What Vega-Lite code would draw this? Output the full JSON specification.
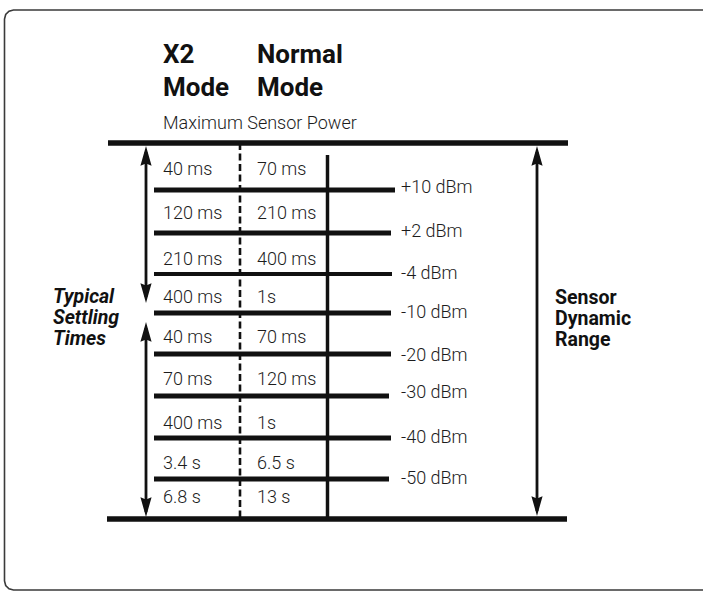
{
  "$schema": "https://vega.github.io/schema/vega-lite/v6.json",
  "width": 703,
  "height": 592,
  "autosize": {"type": "none"},
  "padding": 0,
  "background": "white",
  "config": {"view": {"stroke": null}},
  "datasets": {
    "frame": [
      {"edge": "top", "seq": 1, "px": 703, "py": 10},
      {"edge": "top", "seq": 2, "px": 13.5, "py": 10},
      {"edge": "top", "seq": 3, "px": 9, "py": 11.2},
      {"edge": "top", "seq": 4, "px": 5.7, "py": 14.5},
      {"edge": "top", "seq": 5, "px": 4.5, "py": 19},
      {"edge": "top", "seq": 6, "px": 4.5, "py": 581},
      {"edge": "top", "seq": 7, "px": 5.7, "py": 585.5},
      {"edge": "top", "seq": 8, "px": 9, "py": 588.8},
      {"edge": "top", "seq": 9, "px": 13.5, "py": 590},
      {"edge": "top", "seq": 10, "px": 703, "py": 590}
    ],
    "hlines": [
      {"kind": "limit", "from": 108, "to": 568, "at": 143},
      {"kind": "limit", "from": 107, "to": 567, "at": 519},
      {"kind": "level", "from": 154, "to": 395, "at": 190},
      {"kind": "level", "from": 154, "to": 391, "at": 233},
      {"kind": "major", "from": 154, "to": 392, "at": 274},
      {"kind": "level", "from": 154, "to": 391, "at": 313},
      {"kind": "level", "from": 154, "to": 391, "at": 354},
      {"kind": "level", "from": 154, "to": 389, "at": 396},
      {"kind": "level", "from": 154, "to": 391, "at": 438},
      {"kind": "level", "from": 154, "to": 389, "at": 479}
    ],
    "dashed": [{"at": 240, "from": 143, "to": 519}],
    "vlines": [
      {"kind": "column", "at": 327.5, "from": 155, "to": 519},
      {"kind": "arrow", "at": 146, "from": 152, "to": 297},
      {"kind": "arrow", "at": 146, "from": 328, "to": 512},
      {"kind": "arrow", "at": 537, "from": 152, "to": 511}
    ],
    "heads": [
      {"at": 146, "tip": 146, "dir": "up"},
      {"at": 146, "tip": 303, "dir": "down"},
      {"at": 146, "tip": 322, "dir": "up"},
      {"at": 146, "tip": 517, "dir": "down"},
      {"at": 537, "tip": 146, "dir": "up"},
      {"at": 537, "tip": 516, "dir": "down"}
    ],
    "cells": [
      {"mode": "X2", "label": "40 ms", "cx": 163, "cy": 170},
      {"mode": "Normal", "label": "70 ms", "cx": 257, "cy": 170},
      {"mode": "X2", "label": "120 ms", "cx": 163, "cy": 214},
      {"mode": "Normal", "label": "210 ms", "cx": 257, "cy": 214},
      {"mode": "X2", "label": "210 ms", "cx": 163, "cy": 260},
      {"mode": "Normal", "label": "400 ms", "cx": 257, "cy": 260},
      {"mode": "X2", "label": "400 ms", "cx": 163, "cy": 298},
      {"mode": "Normal", "label": "1s", "cx": 257, "cy": 298},
      {"mode": "X2", "label": "40 ms", "cx": 163, "cy": 338},
      {"mode": "Normal", "label": "70 ms", "cx": 257, "cy": 338},
      {"mode": "X2", "label": "70 ms", "cx": 163, "cy": 380},
      {"mode": "Normal", "label": "120 ms", "cx": 257, "cy": 380},
      {"mode": "X2", "label": "400 ms", "cx": 163, "cy": 424},
      {"mode": "Normal", "label": "1s", "cx": 257, "cy": 424},
      {"mode": "X2", "label": "3.4 s", "cx": 163, "cy": 464},
      {"mode": "Normal", "label": "6.5 s", "cx": 257, "cy": 464},
      {"mode": "X2", "label": "6.8 s", "cx": 163, "cy": 498},
      {"mode": "Normal", "label": "13 s", "cx": 257, "cy": 498},
      {"mode": "level", "label": "+10 dBm", "cx": 401, "cy": 188},
      {"mode": "level", "label": "+2 dBm", "cx": 401, "cy": 232},
      {"mode": "level", "label": "-4 dBm", "cx": 401, "cy": 274},
      {"mode": "level", "label": "-10 dBm", "cx": 401, "cy": 313},
      {"mode": "level", "label": "-20 dBm", "cx": 401, "cy": 356},
      {"mode": "level", "label": "-30 dBm", "cx": 401, "cy": 393},
      {"mode": "level", "label": "-40 dBm", "cx": 401, "cy": 438},
      {"mode": "level", "label": "-50 dBm", "cx": 401, "cy": 479},
      {"mode": "sub", "label": "Maximum Sensor Power", "cx": 163, "cy": 124}
    ],
    "heads_text": [
      {"label": "X2", "cx": 163, "cy": 55},
      {"label": "Normal", "cx": 257, "cy": 55},
      {"label": "Mode", "cx": 163, "cy": 88},
      {"label": "Mode", "cx": 257, "cy": 88}
    ],
    "side_left": [
      {"label": "Typical", "cx": 53, "cy": 297},
      {"label": "Settling", "cx": 53, "cy": 318},
      {"label": "Times", "cx": 53, "cy": 339}
    ],
    "side_right": [
      {"label": "Sensor", "cx": 555, "cy": 298},
      {"label": "Dynamic", "cx": 555, "cy": 319},
      {"label": "Range", "cx": 555, "cy": 340}
    ]
  },
  "layer": [
    {
      "data": {"name": "frame"},
      "mark": {"type": "line", "color": "#3a3a3a", "strokeWidth": 1.6, "interpolate": "linear"},
      "encoding": {
        "x": {"field": "px", "type": "quantitative", "scale": {"domain": [0, 703], "nice": false, "zero": false}, "axis": null},
        "y": {"field": "py", "type": "quantitative", "scale": {"domain": [0, 592], "nice": false, "zero": false, "reverse": true}, "axis": null},
        "order": {"field": "seq", "type": "quantitative"}
      }
    },
    {
      "data": {"name": "hlines"},
      "mark": {"type": "rule", "color": "#111111"},
      "encoding": {
        "x": {"field": "from", "type": "quantitative"},
        "x2": {"field": "to"},
        "y": {"field": "at", "type": "quantitative"},
        "strokeWidth": {"field": "kind", "type": "nominal", "scale": {"domain": ["limit", "level", "major"], "range": [5.5, 2.8, 4.2]}, "legend": null}
      }
    },
    {
      "data": {"name": "dashed"},
      "mark": {"type": "rule", "color": "#111111", "strokeWidth": 2.6, "strokeDash": [7, 3.5]},
      "encoding": {
        "x": {"field": "at", "type": "quantitative"},
        "y": {"field": "from", "type": "quantitative"},
        "y2": {"field": "to"}
      }
    },
    {
      "data": {"name": "vlines"},
      "mark": {"type": "rule", "color": "#111111"},
      "encoding": {
        "x": {"field": "at", "type": "quantitative"},
        "y": {"field": "from", "type": "quantitative"},
        "y2": {"field": "to"},
        "strokeWidth": {"field": "kind", "type": "nominal", "scale": {"domain": ["column", "arrow"], "range": [4.6, 2.6]}, "legend": null}
      }
    },
    {
      "data": {"name": "heads"},
      "mark": {"type": "point", "filled": true, "opacity": 1, "color": "#111111", "size": 324, "strokeWidth": 0},
      "encoding": {
        "x": {"field": "at", "type": "quantitative"},
        "y": {"field": "tip", "type": "quantitative"},
        "shape": {"field": "dir", "type": "nominal", "scale": {"domain": ["up", "down"], "range": ["M0,0L0.62,2.2L0,1.95L-0.62,2.2Z", "M0,0L0.62,-2.2L0,-1.95L-0.62,-2.2Z"]}, "legend": null}
      }
    },
    {
      "data": {"name": "cells"},
      "mark": {"type": "text", "align": "left", "baseline": "middle", "font": "Roboto", "fontWeight": 300, "fontSize": 18, "color": "#1c1c1c"},
      "encoding": {
        "x": {"field": "cx", "type": "quantitative"},
        "y": {"field": "cy", "type": "quantitative"},
        "text": {"field": "label"}
      }
    },
    {
      "data": {"name": "heads_text"},
      "mark": {"type": "text", "align": "left", "baseline": "middle", "font": "Roboto", "fontWeight": "bold", "fontSize": 26, "color": "#111111"},
      "encoding": {
        "x": {"field": "cx", "type": "quantitative"},
        "y": {"field": "cy", "type": "quantitative"},
        "text": {"field": "label"}
      }
    },
    {
      "data": {"name": "side_left"},
      "mark": {"type": "text", "align": "left", "baseline": "middle", "font": "Roboto", "fontWeight": "bold", "fontStyle": "italic", "fontSize": 19.5, "color": "#111111"},
      "encoding": {
        "x": {"field": "cx", "type": "quantitative"},
        "y": {"field": "cy", "type": "quantitative"},
        "text": {"field": "label"}
      }
    },
    {
      "data": {"name": "side_right"},
      "mark": {"type": "text", "align": "left", "baseline": "middle", "font": "Roboto", "fontWeight": "bold", "fontSize": 19.5, "color": "#111111"},
      "encoding": {
        "x": {"field": "cx", "type": "quantitative"},
        "y": {"field": "cy", "type": "quantitative"},
        "text": {"field": "label"}
      }
    }
  ]
}
